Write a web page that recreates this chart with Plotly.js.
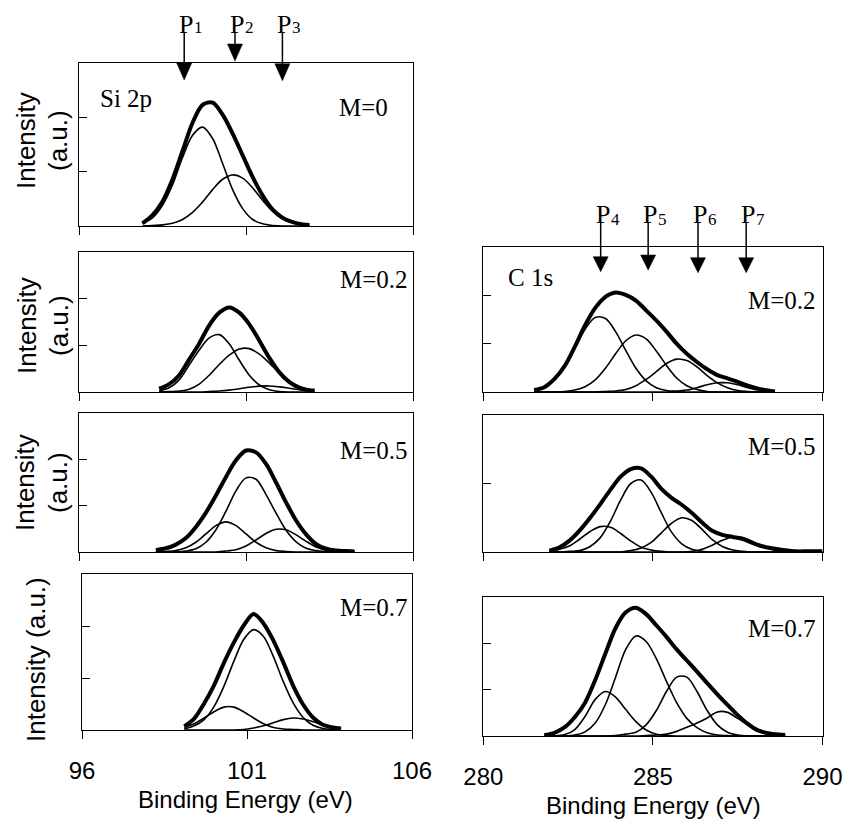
<!DOCTYPE html>
<html>
<head>
<meta charset="utf-8">
<script src="https://cdn.plot.ly/plotly-3.0.1.min.js"></script>
<style>html,body{margin:0;padding:0;background:#fff;}#chart{width:848px;height:823px;}</style>
</head>
<body>
<div id="chart"></div>
<script>
// ---------------- DATA ----------------
// Si 2p, M=0
const si0_x     = [97.9, 98.2, 98.5, 98.8, 99.1, 99.4, 99.7, 100.0, 100.3, 100.6, 100.9, 101.2, 101.5, 101.8, 102.1, 102.4, 102.7, 102.9];
const si0_total = [0.05, 0.20, 0.45, 0.86, 1.38, 1.90, 2.23, 2.27, 2.05, 1.70, 1.30, 0.90, 0.56, 0.30, 0.15, 0.07, 0.03, 0.02];
const si0_p1    = [0.05, 0.15, 0.38, 0.76, 1.26, 1.67, 1.82, 1.61, 1.15, 0.67, 0.32, 0.12, 0.04, 0.01, 0, 0, 0, 0];
const si0_p2    = [0, 0.01, 0.02, 0.05, 0.12, 0.25, 0.44, 0.67, 0.86, 0.94, 0.88, 0.70, 0.47, 0.27, 0.13, 0.06, 0.02, 0.01];

// Si 2p, M=0.2
const si2_x     = [98.4, 98.7, 99.0, 99.3, 99.6, 99.9, 100.2, 100.5, 100.8, 101.1, 101.4, 101.7, 102.0, 102.3, 102.6, 102.9, 103.05];
const si2_total = [0.07, 0.17, 0.36, 0.70, 1.04, 1.43, 1.70, 1.81, 1.70, 1.45, 1.10, 0.73, 0.42, 0.21, 0.09, 0.04, 0.03];
const si2_p1    = [0.03, 0.09, 0.26, 0.58, 0.90, 1.16, 1.23, 1.03, 0.68, 0.36, 0.15, 0.05, 0.01, 0, 0, 0, 0];
const si2_p2    = [0, 0.01, 0.02, 0.06, 0.17, 0.36, 0.59, 0.79, 0.92, 0.93, 0.81, 0.62, 0.41, 0.24, 0.12, 0.05, 0.04];
const si2_p3    = [0, 0, 0, 0, 0, 0.01, 0.02, 0.04, 0.07, 0.10, 0.125, 0.13, 0.11, 0.08, 0.05, 0.02, 0.01];

// Si 2p, M=0.5
const si5_x     = [98.3, 98.6, 98.9, 99.2, 99.5, 99.8, 100.1, 100.4, 100.7, 101.0, 101.3, 101.6, 101.9, 102.2, 102.5, 102.8, 103.1, 103.4, 103.7, 104.0, 104.25];
const si5_total = [0.04, 0.08, 0.16, 0.30, 0.54, 0.85, 1.22, 1.62, 1.98, 2.19, 2.15, 1.90, 1.50, 1.07, 0.68, 0.38, 0.17, 0.07, 0.03, 0.02, 0.01];
const si5_p1    = [0, 0.01, 0.03, 0.09, 0.21, 0.39, 0.57, 0.65, 0.57, 0.39, 0.21, 0.09, 0.03, 0.01, 0, 0, 0, 0, 0, 0, 0];
const si5_p2    = [0, 0, 0, 0.02, 0.07, 0.21, 0.48, 0.88, 1.32, 1.60, 1.57, 1.24, 0.84, 0.47, 0.22, 0.08, 0.03, 0.01, 0, 0, 0];
const si5_p3    = [0, 0, 0, 0, 0, 0, 0, 0.02, 0.05, 0.13, 0.26, 0.40, 0.49, 0.48, 0.37, 0.23, 0.11, 0.04, 0.01, 0, 0];

// Si 2p, M=0.7
const si7_x     = [99.1, 99.4, 99.7, 100.0, 100.3, 100.6, 100.9, 101.2, 101.5, 101.8, 102.1, 102.4, 102.7, 103.0, 103.3, 103.6, 103.85];
const si7_total = [0.07, 0.22, 0.51, 0.86, 1.29, 1.68, 2.01, 2.23, 2.05, 1.72, 1.30, 0.85, 0.49, 0.24, 0.10, 0.05, 0.03];
const si7_p1    = [0.05, 0.12, 0.23, 0.35, 0.44, 0.44, 0.35, 0.23, 0.12, 0.05, 0.02, 0.01, 0, 0, 0, 0, 0];
const si7_p2    = [0.02, 0.08, 0.20, 0.45, 0.84, 1.32, 1.74, 1.93, 1.80, 1.41, 0.93, 0.52, 0.24, 0.09, 0.03, 0.01, 0];
const si7_p3    = [0, 0, 0, 0, 0, 0, 0.01, 0.04, 0.08, 0.14, 0.20, 0.23, 0.21, 0.16, 0.10, 0.05, 0.02];

// C 1s, M=0.2
const c2_x     = [281.5, 281.8, 282.1, 282.4, 282.7, 283.0, 283.3, 283.6, 283.9, 284.2, 284.5, 284.8, 285.1, 285.4, 285.7, 286.0, 286.3, 286.6, 286.9, 287.2, 287.5, 287.8, 288.1, 288.4, 288.6];
const c2_total = [0.04, 0.10, 0.27, 0.54, 0.94, 1.38, 1.74, 1.97, 2.06, 2.01, 1.89, 1.69, 1.48, 1.25, 1.00, 0.79, 0.62, 0.47, 0.35, 0.28, 0.21, 0.13, 0.07, 0.03, 0.01];
const c2_p4    = [0.03, 0.10, 0.26, 0.53, 0.91, 1.30, 1.54, 1.52, 1.25, 0.86, 0.49, 0.23, 0.09, 0.03, 0.01, 0, 0, 0, 0, 0, 0, 0, 0, 0, 0];
const c2_p5    = [0, 0, 0, 0.01, 0.04, 0.11, 0.25, 0.49, 0.79, 1.06, 1.18, 1.10, 0.85, 0.55, 0.29, 0.13, 0.05, 0.01, 0, 0, 0, 0, 0, 0, 0];
const c2_p6    = [0, 0, 0, 0, 0, 0, 0, 0.01, 0.02, 0.05, 0.13, 0.26, 0.42, 0.59, 0.68, 0.65, 0.52, 0.34, 0.19, 0.09, 0.03, 0.01, 0, 0, 0];
const c2_p7    = [0, 0, 0, 0, 0, 0, 0, 0, 0, 0, 0, 0, 0, 0, 0.02, 0.04, 0.09, 0.15, 0.19, 0.19, 0.15, 0.09, 0.04, 0.02, 0.01];

// C 1s, M=0.5
const c5_x     = [281.95, 282.25, 282.55, 282.85, 283.15, 283.45, 283.75, 284.05, 284.35, 284.65, 284.95, 285.25, 285.55, 285.85, 286.15, 286.45, 286.75, 287.05, 287.35, 287.65, 287.95, 288.25, 288.55, 288.85, 289.2, 289.6, 290.0];
const c5_total = [0.02, 0.07, 0.17, 0.32, 0.50, 0.70, 0.91, 1.10, 1.21, 1.22, 1.10, 0.92, 0.79, 0.69, 0.57, 0.43, 0.31, 0.25, 0.22, 0.19, 0.13, 0.08, 0.05, 0.03, 0.01, 0.01, 0.01];
const c5_p4    = [0.01, 0.04, 0.09, 0.19, 0.30, 0.37, 0.36, 0.27, 0.16, 0.07, 0.03, 0.01, 0, 0, 0, 0, 0, 0, 0, 0, 0, 0, 0, 0, 0, 0, 0];
const c5_p5    = [0, 0, 0.01, 0.02, 0.08, 0.21, 0.45, 0.76, 1.00, 1.05, 0.87, 0.57, 0.29, 0.12, 0.04, 0.01, 0, 0, 0, 0, 0, 0, 0, 0, 0, 0, 0];
const c5_p6    = [0, 0, 0, 0, 0, 0, 0, 0, 0.02, 0.06, 0.14, 0.28, 0.42, 0.50, 0.46, 0.33, 0.18, 0.08, 0.03, 0.01, 0, 0, 0, 0, 0, 0, 0];
const c5_p7    = [0, 0, 0, 0, 0, 0, 0, 0, 0, 0, 0, 0, 0, 0, 0.01, 0.04, 0.10, 0.17, 0.22, 0.21, 0.15, 0.08, 0.03, 0.01, 0, 0, 0];

// C 1s, M=0.7
const c7_x     = [281.8, 282.1, 282.4, 282.7, 283.0, 283.3, 283.6, 283.9, 284.2, 284.5, 284.8, 285.1, 285.4, 285.7, 286.0, 286.3, 286.6, 286.9, 287.2, 287.5, 287.8, 288.1, 288.4, 288.7, 288.9];
const c7_total = [0.02, 0.07, 0.19, 0.41, 0.72, 1.21, 1.78, 2.33, 2.67, 2.77, 2.63, 2.39, 2.14, 1.87, 1.63, 1.39, 1.14, 0.90, 0.67, 0.45, 0.26, 0.12, 0.06, 0.03, 0.02];
const c7_p4    = [0, 0, 0.03, 0.14, 0.42, 0.79, 0.96, 0.84, 0.57, 0.31, 0.13, 0.04, 0.01, 0, 0, 0, 0, 0, 0, 0, 0, 0, 0, 0, 0];
const c7_p5    = [0, 0, 0, 0.02, 0.09, 0.28, 0.68, 1.27, 1.87, 2.16, 2.04, 1.67, 1.18, 0.72, 0.38, 0.18, 0.07, 0.02, 0.01, 0, 0, 0, 0, 0, 0];
const c7_p6    = [0, 0, 0, 0, 0, 0, 0, 0.01, 0.04, 0.08, 0.24, 0.55, 0.96, 1.27, 1.27, 0.96, 0.55, 0.24, 0.08, 0.02, 0, 0, 0, 0, 0];
const c7_p7    = [0, 0, 0, 0, 0, 0, 0, 0, 0, 0, 0.01, 0.02, 0.04, 0.10, 0.19, 0.28, 0.39, 0.52, 0.51, 0.38, 0.23, 0.10, 0.04, 0.01, 0];

// tick labels, panel labels, peak markers
const siTicks = [96, 101, 106];
const cTicks  = [280, 285, 290];
const panelLabels = ['M=0', 'M=0.2', 'M=0.5', 'M=0.7', 'M=0.2', 'M=0.5', 'M=0.7'];
const siPeakE = [99.15, 100.67, 102.09];
const siPeakSub = ['1', '2', '3'];
const cPeakE  = [283.46, 284.86, 286.33, 287.75];
const cPeakSub = ['4', '5', '6', '7'];
const xTitle = 'Binding Energy (eV)';
const yTitleA = 'Intensity', yTitleB = '(a.u.)', yTitleFull = 'Intensity (a.u.)';

// ---------------- LAYOUT ----------------
const W = 848, H = 823;
const fx = p => p / W, fy = p => 1 - p / H;
const SANS = 'Liberation Sans, Arial, sans-serif';
const SERIF = 'Liberation Serif, Times New Roman, serif';

const panels = [
  {box:{x:[79,413],    y:[63,226]},  xr:[96,106],  yr:[0,3], yt:[1,2], xt:siTicks, lbl:false,
   x:si0_x, total:si0_total, comps:[si0_p1, si0_p2]},
  {box:{x:[79,413],    y:[252,392]}, xr:[96,106],  yr:[0,3], yt:[1,2], xt:siTicks, lbl:false,
   x:si2_x, total:si2_total, comps:[si2_p1, si2_p2, si2_p3]},
  {box:{x:[79,413],    y:[413,552]}, xr:[96,106],  yr:[0,3], yt:[1,2], xt:siTicks, lbl:false,
   x:si5_x, total:si5_total, comps:[si5_p1, si5_p2, si5_p3]},
  {box:{x:[82,412],    y:[574,730]}, xr:[96,106],  yr:[0,3], yt:[1,2], xt:siTicks, lbl:true,
   x:si7_x, total:si7_total, comps:[si7_p1, si7_p2, si7_p3]},
  {box:{x:[483.3,822.5], y:[247,392]}, xr:[280,290], yr:[0,3], yt:[1,2], xt:cTicks, lbl:false,
   x:c2_x, total:c2_total, comps:[c2_p4, c2_p5, c2_p6, c2_p7]},
  {box:{x:[483.3,822.5], y:[415,552]}, xr:[280,290], yr:[0,2], yt:[1],   xt:cTicks, lbl:false,
   x:c5_x, total:c5_total, comps:[c5_p4, c5_p5, c5_p6, c5_p7]},
  {box:{x:[483.3,822.5], y:[597,736]}, xr:[280,290], yr:[0,3], yt:[1,2], xt:cTicks, lbl:true,
   x:c7_x, total:c7_total, comps:[c7_p4, c7_p5, c7_p6, c7_p7]},
];

const data = [];
const layout = {
  width: W, height: H,
  margin: {l:0, r:0, t:0, b:0, pad:0},
  paper_bgcolor: '#fff', plot_bgcolor: '#fff',
  showlegend: false,
  annotations: [], shapes: []
};

panels.forEach((p, i) => {
  const n = i === 0 ? '' : String(i + 1);
  const xa = 'x' + n, ya = 'y' + n;
  p.comps.forEach(c => data.push({
    type:'scatter', mode:'lines', x:p.x, y:c, xaxis:xa, yaxis:ya,
    line:{color:'#000', width:1.6, shape:'spline', smoothing:0.9}, hoverinfo:'skip'
  }));
  data.push({
    type:'scatter', mode:'lines', x:p.x, y:p.total, xaxis:xa, yaxis:ya,
    line:{color:'#000', width:4, shape:'spline', smoothing:0.9}, hoverinfo:'skip'
  });
  layout['xaxis' + n] = {
    domain:[fx(p.box.x[0]), fx(p.box.x[1])], anchor:ya, range:p.xr,
    tickmode:'array', tickvals:p.xt, ticktext:p.xt.map(String),
    ticks:'outside', ticklen:8, tickwidth:1, tickcolor:'#000',
    showline:true, linecolor:'#000', linewidth:1, mirror:true,
    showgrid:false, zeroline:false, showticklabels:p.lbl,
    ticklabelstandoff:11,
    tickfont:{family:SANS, size:24, color:'#000'}, fixedrange:true
  };
  layout['yaxis' + n] = {
    domain:[fy(p.box.y[1]), fy(p.box.y[0])], anchor:xa, range:p.yr,
    tickmode:'array', tickvals:p.yt,
    ticks:'inside', ticklen:8, tickwidth:1, tickcolor:'#000',
    showline:true, linecolor:'#000', linewidth:1, mirror:true,
    showgrid:false, zeroline:false, showticklabels:false, fixedrange:true
  };
});

function txt(t, x, y, font, size, xanchor, angle) {
  const a = {text:t, xref:'paper', yref:'paper', x:fx(x), y:fy(y),
    xanchor:xanchor || 'left', yanchor:'middle', showarrow:false,
    font:{family:font, size:size, color:'#000'}};
  if (angle !== undefined) a.textangle = angle;
  layout.annotations.push(a);
}

// panel labels (M=...)
const mPos = [[337,107],[338,279],[338,450],[338,607],[746,300],[746,446],[746,628]];
panelLabels.forEach((t, i) => txt(t, mPos[i][0], mPos[i][1], SERIF, 25));
txt('Si 2p', 98, 98, SERIF, 25);
txt('C 1s', 506, 277, SERIF, 25);

// y titles
[[26, 58, 141], [27, 59, 326], [25, 58, 483]].forEach(t => {
  txt(yTitleA, t[0], t[2], SANS, 26, 'center', -90);
  txt(yTitleB, t[1], t[2], SANS, 26, 'center', -90);
});
txt(yTitleFull, 36, 660, SANS, 26, 'center', -90);

// x titles
txt(xTitle, 245, 799, SANS, 24, 'center');
txt(xTitle, 653, 805, SANS, 24, 'center');

// peak arrows
function ePx(panel, E) {
  const b = panel.box.x;
  return b[0] + (E - panel.xr[0]) / (panel.xr[1] - panel.xr[0]) * (b[1] - b[0]);
}
function addArrow(panel, E, sub, yTop, yTip, headLen, halfW, lblY) {
  const x = ePx(panel, E);
  layout.shapes.push({type:'line', xref:'paper', yref:'paper',
    x0:fx(x), x1:fx(x), y0:fy(yTop), y1:fy(yTip - headLen + 1), line:{color:'#000', width:1.5}});
  layout.shapes.push({type:'path', xref:'paper', yref:'paper',
    path:'M' + fx(x - halfW) + ',' + fy(yTip - headLen) + ' L' + fx(x + halfW) + ',' + fy(yTip - headLen) +
         ' L' + fx(x) + ',' + fy(yTip) + ' Z',
    fillcolor:'#000', line:{color:'#000', width:0.5}});
  txt('P', x - 7, lblY, SERIF, 26);
  txt(sub, x + 8, lblY + 4, SERIF, 17);
}
const siTips = [80, 61, 80.7];
siPeakE.forEach((E, k) => addArrow(panels[0], E, siPeakSub[k], 33, siTips[k], 17, 7.5, 24));
const cTips = [271.7, 270, 272.7, 272.7];
cPeakE.forEach((E, k) => addArrow(panels[4], E, cPeakSub[k], 223, cTips[k], 15, 7.5, 215));

Plotly.newPlot('chart', data, layout, {staticPlot:true, displayModeBar:false});
</script>
</body>
</html>
